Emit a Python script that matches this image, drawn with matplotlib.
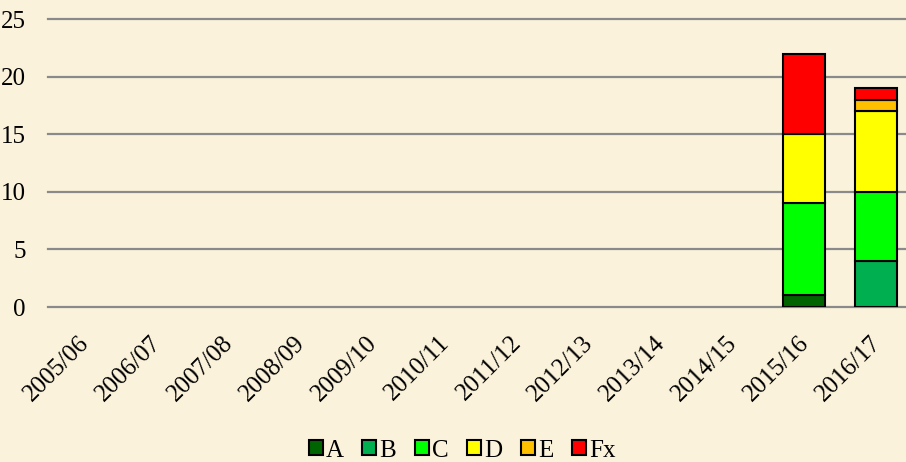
import matplotlib.pyplot as plt
import matplotlib.transforms as mtransforms
import numpy as np

plt.rcParams['font.family'] = ['Liberation Serif', 'DejaVu Serif']

seasons = ['2005/06', '2006/07', '2007/08', '2008/09', '2009/10', '2010/11',
           '2011/12', '2012/13', '2013/14', '2014/15', '2015/16', '2016/17']
grades = ['A', 'B', 'C', 'D', 'E', 'Fx']
colors = ['#006400', '#00B050', '#00FF00', '#FFFF00', '#FFC000', '#FF0000']

# counts per grade for each season (only the last two seasons have data)
A = [0, 0, 0, 0, 0, 0, 0, 0, 0, 0, 1, 0]
B = [0, 0, 0, 0, 0, 0, 0, 0, 0, 0, 0, 4]
C = [0, 0, 0, 0, 0, 0, 0, 0, 0, 0, 8, 6]
D = [0, 0, 0, 0, 0, 0, 0, 0, 0, 0, 6, 7]
E = [0, 0, 0, 0, 0, 0, 0, 0, 0, 0, 0, 1]
Fx = [0, 0, 0, 0, 0, 0, 0, 0, 0, 0, 7, 1]

bg = '#FAF2DA'
fig = plt.figure(figsize=(9.06, 4.62), dpi=100, facecolor=bg)
ax = fig.add_axes([48 / 906, 1 - 307 / 462, 864 / 906, 288 / 462])
ax.set_facecolor(bg)

x = np.arange(len(seasons))
bottom = np.zeros(len(seasons))
for name, vals, col in zip(grades, [A, B, C, D, E, Fx], colors):
    vals = np.array(vals, dtype=float)
    mask = vals > 0
    ax.bar(x[mask], vals[mask], bottom=bottom[mask], width=0.58, color=col,
           edgecolor='black', linewidth=1.5, zorder=3)
    bottom += vals

ax.set_ylim(0, 25)
ax.set_xlim(-0.5, 11.5)
ax.set_yticks(range(0, 26, 5))
ax.yaxis.grid(True, color='#8a8a8a', linewidth=1.6, zorder=0)
for gl in ax.get_ygridlines():
    gl.set_clip_on(False)
ax.set_xticks(x)
ax.set_xticklabels(seasons, rotation=45, ha='right', rotation_mode='anchor')
ax.tick_params(axis='both', length=0, labelsize=18, colors='black')
ax.tick_params(axis='x', pad=18)
ax.tick_params(axis='y', pad=16)
shift = mtransforms.ScaledTranslation(-6 / 100, 0, fig.dpi_scale_trans)
for lbl in ax.get_xticklabels():
    lbl.set_transform(lbl.get_transform() + shift)
for s in ax.spines.values():
    s.set_visible(False)

handles = [plt.Rectangle((0, 0), 1, 1, facecolor=c, edgecolor='black', linewidth=1.5)
           for c in colors]
fig.legend(handles, grades, loc='lower center', bbox_to_anchor=(0.51, -0.048),
           ncol=6, frameon=False, fontsize=18, handlelength=0.56, handleheight=0.56,
           handletextpad=0.12, columnspacing=0.75)

fig.savefig('out.png', dpi=100, facecolor=bg)
